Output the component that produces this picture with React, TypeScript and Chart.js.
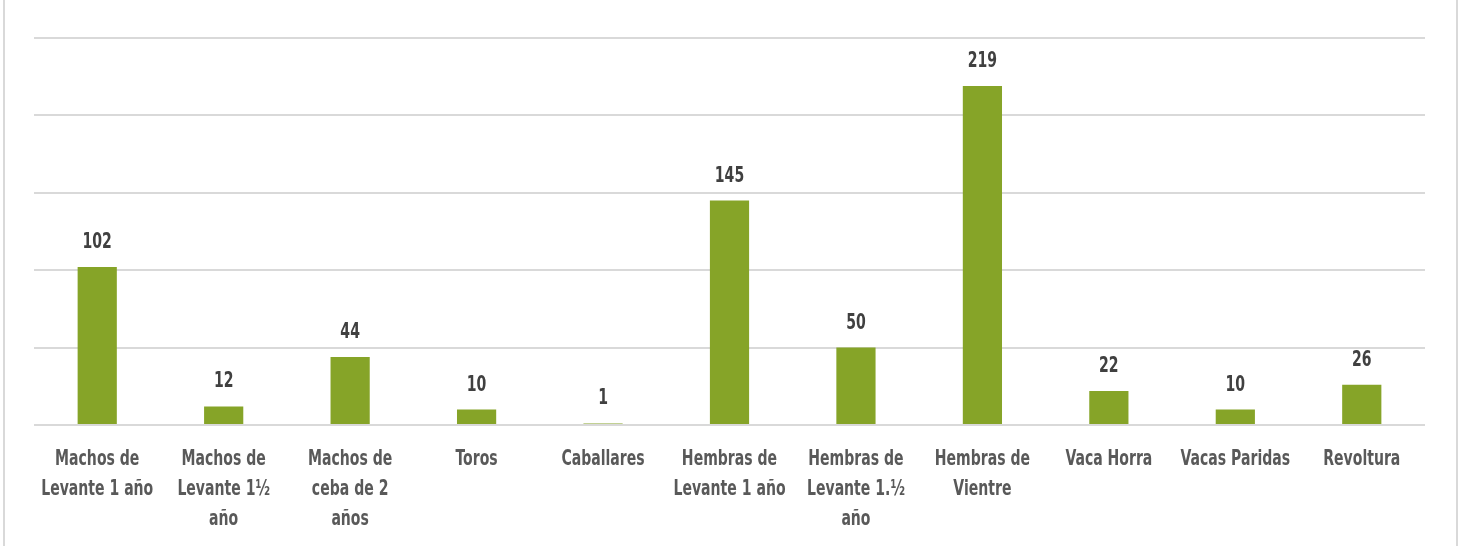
import React, { useEffect, useRef } from "react";
import { Chart, registerables } from "chart.js";

Chart.register(...registerables);

const categories: string[][] = [
  ["Machos de", "Levante 1 año"],
  ["Machos de", "Levante 1½", "año"],
  ["Machos de", "ceba de 2", "años"],
  ["Toros"],
  ["Caballares"],
  ["Hembras de", "Levante 1 año"],
  ["Hembras de", "Levante 1.½", "año"],
  ["Hembras de", "Vientre"],
  ["Vaca Horra"],
  ["Vacas Paridas"],
  ["Revoltura"],
];
const values: number[] = [102, 12, 44, 10, 1, 145, 50, 219, 22, 10, 26];
const yMax = 250;
const yStep = 50;

const FONT = "'DejaVu Sans Condensed', 'Liberation Sans Narrow', sans-serif";
const SQUEEZE = 0.71;

function drawSqueezed(ctx: CanvasRenderingContext2D, text: string, x: number, y: number) {
  ctx.save();
  ctx.translate(x, y);
  ctx.scale(SQUEEZE, 1);
  ctx.fillText(text, 0, 0);
  ctx.restore();
}

const textPlugin = {
  id: "textPlugin",
  afterDatasetsDraw(chart: any) {
    const ctx = chart.ctx as CanvasRenderingContext2D;
    const meta = chart.getDatasetMeta(0);
    const xScale = chart.scales.x;
    ctx.save();
    ctx.font = `bold 22px ${FONT}`;
    ctx.textAlign = "center";
    ctx.textBaseline = "alphabetic";
    ctx.fillStyle = "#404040";
    meta.data.forEach((bar: any, i: number) => {
      drawSqueezed(ctx, String(values[i]), bar.x, bar.y - 19);
    });
    ctx.fillStyle = "#595959";
    const base = xScale.bottom - xScale.height + 40;
    categories.forEach((lines, i) => {
      const x = xScale.getPixelForValue(i);
      lines.forEach((line, k) => {
        drawSqueezed(ctx, line, x, base + k * 30);
      });
    });
    ctx.restore();
  },
};

export default function App() {
  const ref = useRef<HTMLCanvasElement | null>(null);
  useEffect(() => {
    if (!ref.current) return;
    const chart = new Chart(ref.current, {
      type: "bar",
      data: {
        labels: categories.map((l) => l.join(" ")),
        datasets: [
          {
            data: values,
            backgroundColor: "#86a428",
            categoryPercentage: 1,
            barPercentage: 0.31,
          },
        ],
      },
      options: {
        animation: false,
        responsive: false,
        layout: { padding: { left: 29, right: 31, top: 38, bottom: 0 } },
        plugins: { legend: { display: false }, tooltip: { enabled: false }, title: { display: false } },
        scales: {
          x: {
            grid: { display: false },
            border: { display: false },
            ticks: { display: false },
            afterFit: (s: any) => {
              s.height = 121;
            },
          },
          y: {
            min: 0,
            max: yMax,
            ticks: { display: false, stepSize: yStep },
            grid: { color: "#d9d9d9", lineWidth: 2, drawTicks: false },
            border: { display: false },
            afterFit: (s: any) => {
              s.width = 0;
            },
          },
        },
      },
      plugins: [textPlugin],
    });
    return () => chart.destroy();
  }, []);
  return (
    <div
      style={{
        position: "fixed",
        left: 3,
        top: 0,
        width: 1451,
        height: 546,
        borderLeft: "2px solid #d9d9d9",
        borderRight: "2px solid #d9d9d9",
        background: "#fff",
      }}
    >
      <canvas ref={ref} width={1451} height={546} style={{ display: "block" }} />
    </div>
  );
}
